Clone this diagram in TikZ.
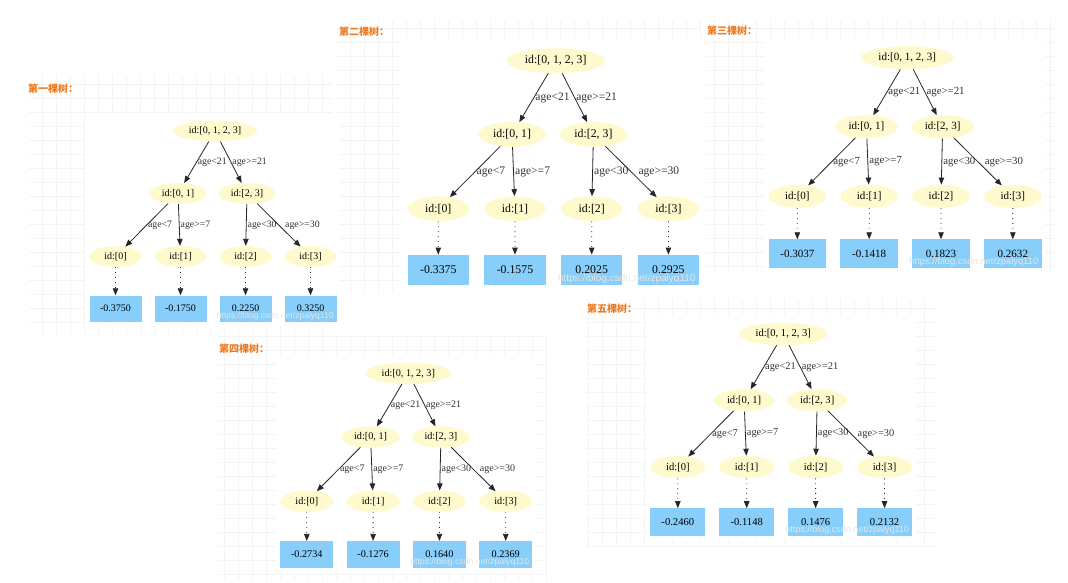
\documentclass[tikz,border=0pt]{standalone}
\usepackage{fontspec}
\setmainfont{Liberation Serif}
\newfontfamily\cjkfont{Noto Sans CJK SC}
\newfontfamily\markfont{Liberation Sans}
\usetikzlibrary{arrows.meta,shapes.geometric}

\definecolor{splitfill}{HTML}{FFFACD}
\definecolor{leaffill}{HTML}{87CEFA}
\definecolor{titleorange}{HTML}{EF7A1E}
\definecolor{gridgray}{HTML}{F4F4F4}

\tikzset{
  splitnode/.style={ellipse, fill=splitfill, inner sep=0pt, minimum height=21pt,
    font=\fontsize{10}{12}\selectfont},
  rootnode/.style={splitnode, minimum width=84pt},
  midnode/.style={splitnode, minimum width=57pt},
  leafnode/.style={splitnode, minimum width=52pt},
  valbox/.style={rectangle, fill=leaffill, minimum width=52pt, minimum height=26pt,
    inner sep=0pt, font=\fontsize{10}{12}\selectfont},
  branch/.style={draw=black!85, line width=0.8pt, -{Triangle[length=7pt,width=5.5pt]}},
  dotlink/.style={branch, dash pattern=on 0.9pt off 4pt},
  cond/.style={right, inner sep=1pt, text=black!80, font=\fontsize{9.8}{11}\selectfont},
  treetitle/.style={anchor=west, inner sep=0pt, text=titleorange,
    font=\cjkfont\bfseries\fontsize{10}{12}\selectfont},
  watermark/.style={anchor=east, inner sep=0pt, text=white!80!gray,
    font=\markfont\fontsize{8.5}{10}\selectfont},
  panel/.style={draw=gridgray, line width=0.4pt}
}

% one boosted tree: name, root x, root y, scale, four leaf values
\newcommand{\xgbtree}[8]{%
  \begin{scope}[shift={(#2,#3)}, scale=#4, transform shape]
    \fill[white] (-130,-18) rectangle (125,195);
    \node[rootnode] (#1r) at (0,0) {id:[0, 1, 2, 3]};
    \node[midnode] (#1a) at (-37,62.5) {id:[0, 1]};
    \node[midnode] (#1b) at (32,62.5) {id:[2, 3]};
    \node[leafnode] (#1l0) at (-99.5,125.5) {id:[0]};
    \node[leafnode] (#1l1) at (-34.5,125.5) {id:[1]};
    \node[leafnode] (#1l2) at (30.5,125.5) {id:[2]};
    \node[leafnode] (#1l3) at (95.5,125.5) {id:[3]};
    \node[valbox] (#1v0) at (-99.5,177.5) {#5};
    \node[valbox] (#1v1) at (-34.5,177.5) {#6};
    \node[valbox] (#1v2) at (30.5,177.5) {#7};
    \node[valbox] (#1v3) at (95.5,177.5) {#8};
    \draw[branch] (#1r) -- node[cond] {age<21} (#1a);
    \draw[branch] (#1r) -- node[cond] {age>=21} (#1b);
    \draw[branch] (#1a) -- node[cond] {age<7} (#1l0);
    \draw[branch] (#1a) -- node[cond] {age>=7} (#1l1);
    \draw[branch] (#1b) -- node[cond] {age<30} (#1l2);
    \draw[branch] (#1b) -- node[cond, xshift=5pt] {age>=30} (#1l3);
    \foreach \i in {0,...,3}
      \draw[dotlink] (#1l\i) -- (#1v\i);
    \node[watermark] (#1mark) at ([xshift=-3pt,yshift=-7.5pt]#1v3.east) {https://blog.csdn.net/zpalyq110};
  \end{scope}}

\begin{document}
\begin{tikzpicture}[x=1pt, y=-1pt]
  \useasboundingbox (0,0) rectangle (1068,582);
  \fill[white] (0,0) rectangle (1068,582);

  % grid panels behind the trees
  \draw[panel, step=14pt] (29,75) grid (332,335);
  \draw[panel, step=14pt] (337,20) grid (700,292);
  \draw[panel, step=14pt] (706,20) grid (1055,272);
  \draw[panel, step=14pt] (218,336) grid (547,580);
  \draw[panel, step=14pt] (586,299) grid (935,546);

  \node[treetitle] (title1) at (28,89) {第一棵树：};
  \node[treetitle] (title2) at (339,32) {第二棵树：};
  \node[treetitle] (title3) at (707,31) {第三棵树：};
  \node[treetitle] (title4) at (219,349) {第四棵树：};
  \node[treetitle] (title5) at (587,309) {第五棵树：};

  \xgbtree{ta}{215}{131}{1}{-0.3750}{-0.1750}{0.2250}{0.3250}
  \xgbtree{tb}{555.7}{60.7}{1.18}{-0.3375}{-0.1575}{0.2025}{0.2925}
  \xgbtree{tc}{907.3}{57.7}{1.105}{-0.3037}{-0.1418}{0.1823}{0.2632}
  \xgbtree{td}{408.3}{373.3}{1.02}{-0.2734}{-0.1276}{0.1640}{0.2369}
  \xgbtree{te}{783.3}{334}{1.06}{-0.2460}{-0.1148}{0.1476}{0.2132}
\end{tikzpicture}
\end{document}
